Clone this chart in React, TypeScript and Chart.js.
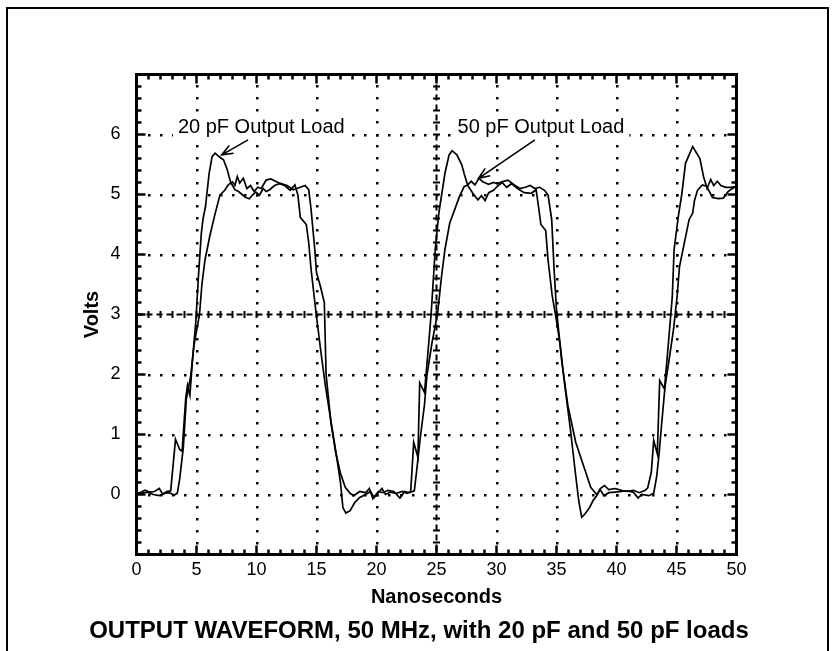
import React, { useEffect, useRef } from 'react';
import { Chart, registerables } from 'chart.js';

Chart.register(...registerables);

const FONT = '"Liberation Sans", Arial, Helvetica, sans-serif';

// ---- data: [nanoseconds, volts] ----
const fast20pF: [number, number][] = [
  [0, 0.02], [0.3, 0.03], [0.7, 0.07], [1.1, 0.04], [1.5, 0.05], [1.9, 0.1], [2.2, 0.0], [2.5, 0.05],
  [2.85, 0.06], [3.25, 0.92], [3.6, 0.75], [3.8, 0.72], [4.1, 1.6], [4.25, 1.82], [4.45, 1.65], [4.65, 2.2],
  [4.95, 2.9], [5.15, 3.6], [5.4, 4.35], [5.55, 4.6], [5.75, 4.8], [6.05, 5.35], [6.3, 5.63], [6.55, 5.69],
  [6.95, 5.62], [7.25, 5.58], [7.55, 5.42], [7.85, 5.2], [8.2, 5.08], [8.5, 5.05], [8.8, 5.0], [9.1, 4.95],
  [9.4, 4.93], [9.7, 5.0], [9.95, 5.04], [10.25, 4.99], [10.55, 5.1], [10.8, 5.05], [11.1, 5.08], [11.5, 5.15],
  [11.9, 5.18], [12.35, 5.15], [12.8, 5.07], [13.2, 5.16], [13.45, 4.99], [13.65, 4.62], [14.15, 4.5],
  [14.35, 4.2], [14.55, 3.75], [14.95, 3.05], [15.35, 2.4], [15.75, 1.8], [16.3, 1.1], [16.7, 0.6], [17.0, 0.2],
  [17.2, -0.22], [17.45, -0.31], [17.8, -0.27], [18.2, -0.13], [18.6, -0.05], [19.1, 0.0], [19.5, 0.05],
  [19.8, -0.05], [20.15, 0.03], [20.45, 0.1], [20.75, 0.0], [21.15, 0.04], [21.65, 0.02], [22.15, 0.05],
  [22.55, 0.02], [22.85, 0.05], [23.1, 0.87], [23.45, 0.62], [23.6, 1.86], [24.0, 1.7], [24.3, 2.4],
  [24.55, 3.0], [24.9, 4.1], [25.2, 4.7], [25.7, 5.35], [26.05, 5.66], [26.3, 5.73], [26.7, 5.66], [27.1, 5.5],
  [27.3, 5.35], [27.6, 5.15], [28.0, 5.03], [28.45, 4.91], [28.75, 4.98], [29.05, 4.9], [29.35, 5.03],
  [29.75, 5.07], [30.05, 5.13], [30.45, 5.2], [30.85, 5.12], [31.25, 5.18], [31.75, 5.1], [32.3, 5.03],
  [32.9, 5.02], [33.3, 5.08], [33.5, 4.8], [33.7, 4.5], [34.1, 4.4], [34.3, 3.9], [34.65, 3.3], [35.0, 2.9],
  [35.3, 2.5], [35.7, 1.8], [36.15, 1.1], [36.55, 0.4], [36.85, -0.1], [37.1, -0.38], [37.35, -0.33],
  [37.75, -0.22], [38.05, -0.1], [38.35, -0.02], [38.65, 0.1], [39.0, 0.15], [39.35, 0.08], [39.9, 0.1],
  [40.4, 0.07], [40.9, 0.05], [41.4, 0.07], [41.9, 0.03], [42.4, 0.07], [42.6, 0.11], [42.9, 0.37], [43.1, 0.9],
  [43.4, 0.68], [43.6, 1.9], [44.0, 1.76], [44.35, 2.58], [44.65, 3.3], [44.8, 4.08], [45.15, 4.63],
  [45.45, 5.02], [45.75, 5.52], [46.35, 5.8], [46.95, 5.6], [47.25, 5.3], [47.55, 5.1], [47.85, 5.25],
  [48.1, 5.15], [48.4, 5.22], [48.7, 5.15], [49.1, 5.12], [49.5, 5.12], [50, 5.13],
];

const slow50pF: [number, number][] = [
  [0, 0.03], [0.4, 0.02], [0.9, 0.04], [1.4, 0.0], [1.9, -0.02], [2.3, 0.02], [2.7, 0.03], [3.15, -0.01],
  [3.4, 0.02], [3.6, 0.26], [3.9, 0.78], [4.15, 1.59], [4.5, 1.95], [4.8, 2.5], [5.25, 3.0], [5.45, 3.5],
  [5.7, 3.9], [6.1, 4.3], [6.5, 4.64], [6.95, 4.99], [7.35, 5.07], [7.65, 5.16], [8.0, 5.21], [8.2, 5.15],
  [8.4, 5.3], [8.6, 5.19], [8.9, 5.27], [9.2, 5.1], [9.5, 5.15], [9.8, 5.05], [10.1, 5.12], [10.4, 5.1],
  [10.8, 5.24], [11.2, 5.26], [11.8, 5.2], [12.55, 5.15], [13.05, 5.08], [13.35, 5.1], [13.65, 5.12],
  [14.05, 5.15], [14.35, 5.08], [14.55, 4.75], [14.85, 4.1], [15.0, 3.7], [15.35, 3.45], [15.65, 3.2],
  [15.8, 2.0], [16.2, 1.2], [16.6, 0.7], [17.0, 0.35], [17.4, 0.12], [17.8, 0.02], [18.1, -0.02], [18.6, 0.05],
  [19.1, 0.03], [19.4, 0.1], [19.7, -0.07], [20.15, 0.05], [20.55, 0.03], [20.95, 0.07], [21.45, 0.05],
  [21.95, -0.06], [22.35, 0.05], [22.75, 0.03], [23.15, 0.06], [23.35, 0.4], [23.65, 0.95], [24.0, 1.5],
  [24.2, 1.98], [24.6, 2.5], [25.1, 3.03], [25.4, 3.6], [25.7, 4.08], [26.1, 4.52], [26.5, 4.74], [26.9, 4.96],
  [27.3, 5.13], [27.6, 5.16], [27.9, 5.22], [28.2, 5.16], [28.55, 5.27], [28.85, 5.21], [29.35, 5.17],
  [29.75, 5.2], [30.05, 5.18], [30.45, 5.21], [30.95, 5.24], [31.55, 5.15], [31.95, 5.1], [32.4, 5.12],
  [32.8, 5.15], [33.2, 5.1], [33.6, 5.12], [34.0, 5.07], [34.3, 4.99], [34.6, 4.58], [34.8, 3.75], [35.0, 3.08],
  [35.45, 2.2], [35.95, 1.48], [36.6, 0.87], [37.35, 0.42], [37.85, 0.12], [38.35, 0.0], [38.65, 0.08],
  [38.95, -0.02], [39.35, 0.03], [39.9, 0.04], [40.4, 0.05], [40.9, 0.06], [41.4, 0.04], [41.8, -0.06],
  [42.1, 0.0], [42.7, -0.02], [43.1, 0.02], [43.35, 0.3], [43.55, 0.68], [43.75, 1.15], [44.05, 1.81],
  [44.35, 2.2], [44.75, 2.75], [45.05, 3.3], [45.25, 3.8], [45.65, 4.19], [46.05, 4.58], [46.35, 4.69],
  [46.5, 4.9], [46.75, 5.07], [47.15, 5.16], [47.5, 5.14], [48.0, 4.95], [48.5, 4.93], [48.9, 4.94],
  [49.3, 5.05], [49.8, 5.12], [50, 5.14],
];

// ---- axes ----
const xMin = 0;
const xMax = 50;
const xMajorStep = 5;
const xMinorStep = 1;
const yMin = -1;
const yMax = 7;
const yMajorStep = 1;
const yMinorStep = 0.2;
const yLabelMin = 0;
const yLabelMax = 6;
const crossX = 25;
const crossY = 3;

// ---- text ----
const chartTitle = 'OUTPUT WAVEFORM, 50 MHz, with 20 pF and 50 pF loads';
const xTitle = 'Nanoseconds';
const yTitle = 'Volts';

// ---- annotations (data coordinates) ----
const noteLabels = ['20 pF Output Load', '50 pF Output Load'];
const noteTextAt: [number, number][] = [[10.4, 6.11], [33.7, 6.11]];
const noteArrowFrom: [number, number][] = [[9.3, 5.91], [33.2, 5.91]];
const noteArrowTo: [number, number][] = [[7.1, 5.66], [28.5, 5.27]];

const scopePlugin = {
  id: 'scopeDecor',
  beforeDraw(chart: any) {
    const ctx = chart.ctx as CanvasRenderingContext2D;
    ctx.save();
    ctx.fillStyle = '#fff';
    ctx.fillRect(0, 0, chart.width, chart.height);
    ctx.strokeStyle = '#000';
    ctx.lineWidth = 2;
    ctx.beginPath();
    ctx.moveTo(7, chart.height + 10);
    ctx.lineTo(7, 8);
    ctx.lineTo(828, 8);
    ctx.lineTo(828, chart.height + 10);
    ctx.stroke();
    ctx.restore();
  },
  beforeDatasetsDraw(chart: any) {
    const ctx = chart.ctx as CanvasRenderingContext2D;
    const ca = chart.chartArea;
    const xs = chart.scales.x;
    const ys = chart.scales.y;
    ctx.save();
    ctx.fillStyle = '#000';
    const dot = (px: number, py: number) => ctx.fillRect(Math.round(px) - 1, Math.round(py) - 1, 2.5, 2.5);
    const nX = Math.round((xMax - xMin) / xMinorStep);
    const nY = Math.round((yMax - yMin) / yMinorStep);
    // horizontal dotted lines
    for (let v = yMin + yMajorStep; v < yMax; v += yMajorStep) {
      if (v === crossY) continue;
      const py = ys.getPixelForValue(v);
      for (let i = 1; i < nX; i++) dot(xs.getPixelForValue(xMin + i * xMinorStep), py);
    }
    // vertical dotted lines
    for (let t = xMin + xMajorStep; t < xMax; t += xMajorStep) {
      if (t === crossX) continue;
      const px = xs.getPixelForValue(t);
      for (let i = 1; i < nY; i++) dot(px, ys.getPixelForValue(yMin + i * yMinorStep));
    }
    // center crosshair
    ctx.strokeStyle = '#000';
    ctx.lineWidth = 2;
    const cx = xs.getPixelForValue(crossX);
    const cy = ys.getPixelForValue(crossY);
    ctx.setLineDash([6, 4]);
    ctx.beginPath();
    ctx.moveTo(cx, ca.top);
    ctx.lineTo(cx, ca.bottom);
    ctx.moveTo(ca.left, cy);
    ctx.lineTo(ca.right, cy);
    ctx.stroke();
    ctx.setLineDash([]);
    ctx.beginPath();
    for (let i = 1; i < nY; i++) {
      const py = ys.getPixelForValue(yMin + i * yMinorStep);
      ctx.moveTo(cx - 3.5, py);
      ctx.lineTo(cx + 3.5, py);
    }
    for (let i = 1; i < nX; i++) {
      const px = xs.getPixelForValue(xMin + i * xMinorStep);
      ctx.moveTo(px, cy - 3.5);
      ctx.lineTo(px, cy + 3.5);
    }
    ctx.stroke();
    // border ticks
    ctx.lineWidth = 2.5;
    ctx.beginPath();
    for (let i = 1; i < nY; i++) {
      const v = yMin + i * yMinorStep;
      const py = ys.getPixelForValue(v);
      const major = Math.abs(v - Math.round(v)) < 1e-6;
      const len = major ? 9 : 5;
      ctx.moveTo(ca.left, py);
      ctx.lineTo(ca.left + len, py);
      ctx.moveTo(ca.right, py);
      ctx.lineTo(ca.right - len, py);
    }
    for (let i = 1; i < nX; i++) {
      const t = xMin + i * xMinorStep;
      const px = xs.getPixelForValue(t);
      const len = t % xMajorStep === 0 ? 9 : 5;
      ctx.moveTo(px, ca.bottom);
      ctx.lineTo(px, ca.bottom - len);
      ctx.moveTo(px, ca.top);
      ctx.lineTo(px, ca.top + len);
    }
    ctx.stroke();
    ctx.restore();
  },
  afterDatasetsDraw(chart: any) {
    const ctx = chart.ctx as CanvasRenderingContext2D;
    const ca = chart.chartArea;
    const xs = chart.scales.x;
    const ys = chart.scales.y;
    ctx.save();
    // frame
    ctx.strokeStyle = '#000';
    ctx.lineWidth = 3;
    ctx.strokeRect(ca.left, ca.top, ca.right - ca.left, ca.bottom - ca.top);
    // annotations
    ctx.font = `20px ${FONT}`;
    ctx.textAlign = 'center';
    ctx.textBaseline = 'middle';
    noteLabels.forEach((label, i) => {
      const tx = xs.getPixelForValue(noteTextAt[i][0]);
      const ty = ys.getPixelForValue(noteTextAt[i][1]);
      const w = ctx.measureText(label).width;
      ctx.fillStyle = '#fff';
      ctx.fillRect(tx - w / 2 - 5, ty - 12, w + 10, 24);
      ctx.fillStyle = '#000';
      ctx.fillText(label, tx, ty);
      const x0 = xs.getPixelForValue(noteArrowFrom[i][0]);
      const y0 = ys.getPixelForValue(noteArrowFrom[i][1]);
      const x1 = xs.getPixelForValue(noteArrowTo[i][0]);
      const y1 = ys.getPixelForValue(noteArrowTo[i][1]);
      ctx.lineWidth = 1.6;
      ctx.beginPath();
      ctx.moveTo(x0, y0);
      ctx.lineTo(x1, y1);
      const ang = Math.atan2(y0 - y1, x0 - x1);
      const hl = 12;
      const spread = 0.38;
      ctx.moveTo(x1 + hl * Math.cos(ang + spread), y1 + hl * Math.sin(ang + spread));
      ctx.lineTo(x1, y1);
      ctx.lineTo(x1 + hl * Math.cos(ang - spread), y1 + hl * Math.sin(ang - spread));
      ctx.stroke();
    });
    ctx.restore();
  },
};

export default function App() {
  const ref = useRef<HTMLCanvasElement>(null);
  useEffect(() => {
    if (!ref.current) return;
    Chart.defaults.font.family = FONT;
    Chart.defaults.color = '#000';
    const lineStyle = {
      borderColor: '#000',
      borderWidth: 1.7,
      pointRadius: 0,
      tension: 0,
      fill: false,
      xAxisID: 'x',
      yAxisID: 'y',
    };
    const chart = new Chart(ref.current, {
      type: 'line',
      data: {
        datasets: [
          { label: '20 pF Output Load', data: fast20pF.map(([x, y]) => ({ x, y })), ...lineStyle },
          { label: '50 pF Output Load', data: slow50pF.map(([x, y]) => ({ x, y })), ...lineStyle },
        ],
      },
      options: {
        responsive: false,
        animation: false,
        devicePixelRatio: 1,
        layout: { padding: { left: 0, right: 0, top: 74.5, bottom: 0 } },
        plugins: {
          legend: { display: false },
          tooltip: { enabled: false },
          title: {
            display: true,
            text: chartTitle,
            position: 'bottom',
            color: '#000',
            font: { family: FONT, size: 24, weight: 'bold', lineHeight: 1.2 },
            padding: { top: 0, bottom: 5 },
          },
        },
        scales: {
          x: {
            type: 'linear',
            position: 'bottom',
            min: xMin,
            max: xMax,
            grid: { display: false, drawTicks: false },
            border: { display: false },
            ticks: {
              stepSize: xMajorStep,
              autoSkip: false,
              maxRotation: 0,
              padding: 5,
              color: '#000',
              font: { family: FONT, size: 18 },
            },
            title: {
              display: true,
              text: xTitle,
              color: '#000',
              font: { family: FONT, size: 20, weight: 'bold', lineHeight: 1.2 },
              padding: { top: 0, bottom: 8 },
            },
            afterFit: (s: any) => { s.height = 62.7; },
          },
          y: {
            type: 'linear',
            position: 'left',
            min: yMin,
            max: yMax,
            grid: { display: false, drawTicks: false },
            border: { display: false },
            ticks: {
              stepSize: yMajorStep,
              padding: 16,
              color: '#000',
              font: { family: FONT, size: 18 },
              callback: (v: any) => (v >= yLabelMin && v <= yLabelMax ? String(v) : ''),
            },
            title: {
              display: true,
              text: yTitle,
              color: '#000',
              font: { family: FONT, size: 20, weight: 'bold', lineHeight: 1.2 },
              padding: { top: 80, bottom: 0 },
            },
            afterFit: (s: any) => { s.width = 136.5; },
          },
          yRight: {
            type: 'linear',
            position: 'right',
            min: yMin,
            max: yMax,
            grid: { display: false, drawTicks: false },
            border: { display: false },
            ticks: { display: false },
            afterFit: (s: any) => { s.width = 838 - 736.5; },
          },
        },
      } as any,
      plugins: [scopePlugin],
    } as any);
    return () => chart.destroy();
  }, []);
  return (
    <div style={{ position: 'fixed', left: 0, top: 0, width: 838, height: 651, overflow: 'hidden', background: '#fff' }}>
      <canvas ref={ref} width={838} height={651} style={{ display: 'block', width: 838, height: 651 }} />
    </div>
  );
}
